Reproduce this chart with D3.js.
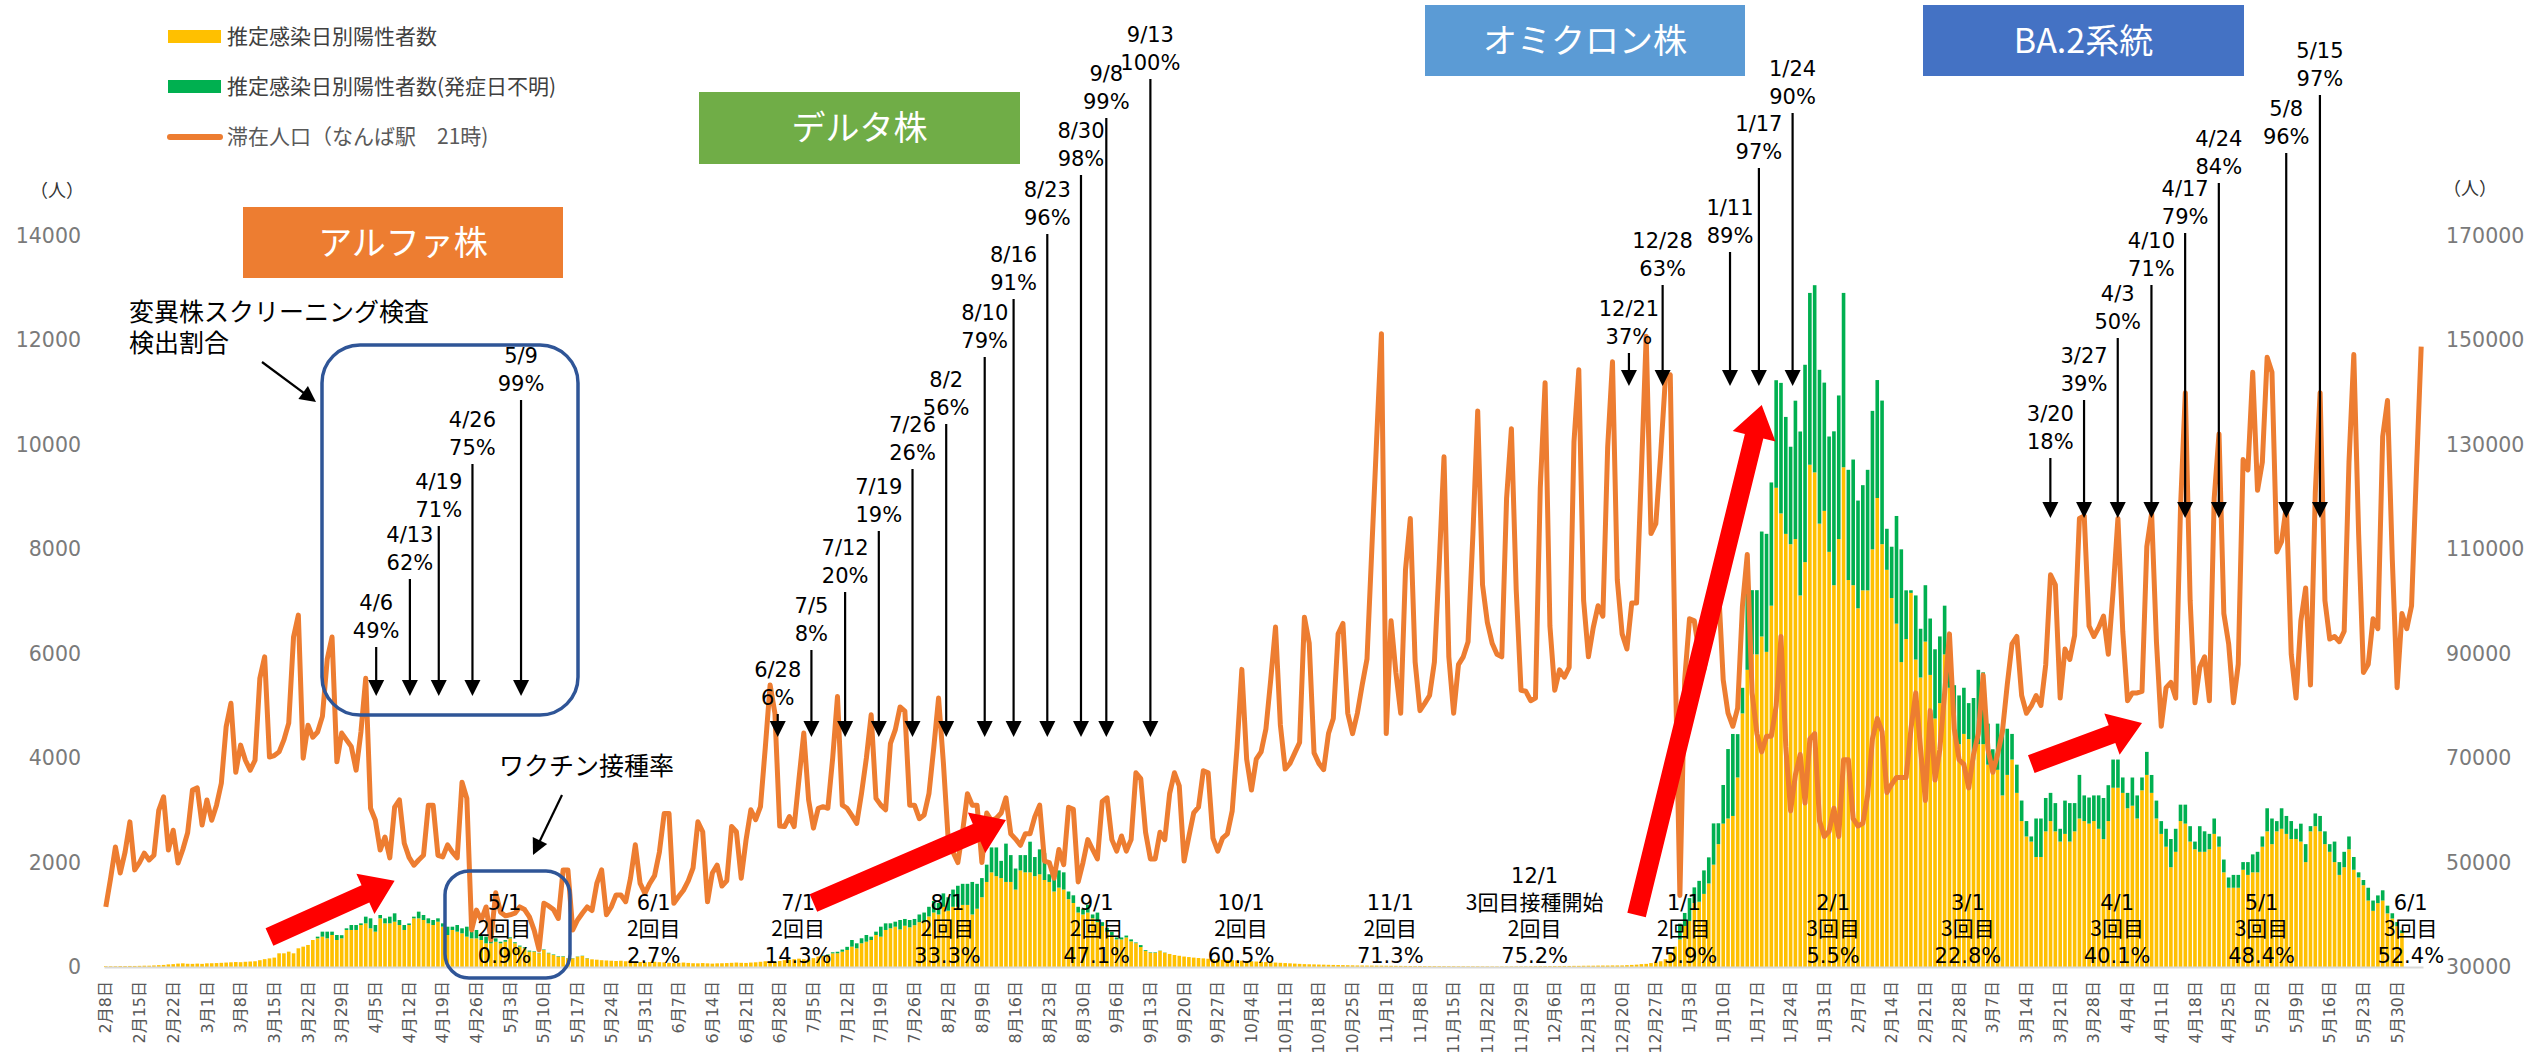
<!DOCTYPE html>
<html lang="ja">
<head>
<meta charset="utf-8">
<script src="https://cdn.jsdelivr.net/npm/d3@7"></script>
<style>
  body { margin: 0; background: #fff; }
  text { font-family: "DejaVu Sans", "Noto Sans CJK JP", sans-serif; }
  text.jp { font-family: "Noto Sans CJK JP", sans-serif; }
</style>
</head>
<body>
<svg id="chart"></svg>
<script>
const width = 2539, height = 1055

// ---- data ----
const startDate = "2021-02-08"

// 滞在人口（なんば駅 21時）, one value per day from 2021-02-08
const population = [
  41500, 47000, 53000, 48000, 52000, 57800, 48600,
  50000, 51800, 50500, 51400, 60000, 62600, 52400,
  56200, 49900, 52500, 55700, 63900, 64300, 57200,
  62000, 58100, 61000, 65200, 76000, 80500, 67300,
  72500, 69600, 67700, 69600, 85300, 89400, 70200,
  70500, 71200, 73500, 76700, 93200, 97400, 70000,
  76300, 74000, 75000, 78000, 89000, 93200, 69300,
  74800, 73500, 72200, 67700, 75000, 85300, 60400,
  58100, 52400, 54900, 50900, 60600, 62000, 53700,
  51000, 49500, 50500, 51400, 61000, 61000, 51400,
  51100, 53400, 52000, 50900, 65400, 62300, 37100,
  40900, 39000, 41500, 35200, 44200, 40500, 39800,
  40000, 40300, 41500, 41000, 39600, 37000, 33300,
  42200, 41700, 41000, 39300, 48600, 48600, 37100,
  39000, 40300, 41500, 40800, 46000, 48600, 40000,
  41500, 43800, 43800, 42500, 47000, 53400, 46000,
  44100, 46000, 47500, 52000, 59400, 59400, 42200,
  43500, 44700, 46500, 49000, 57800, 55900, 42500,
  48000, 49500, 45500, 46500, 56900, 55900, 47000,
  54300, 60100, 58200, 60700, 72000, 84000, 78600,
  57000, 56900, 58800, 56900, 66000, 74800, 62000,
  56600, 60400, 60700, 60400, 70000, 81800, 61000,
  60400, 59000, 57500, 63300, 70000, 78300, 62300,
  61000, 60100, 72800, 75400, 79800, 79000, 61000,
  61000, 58400, 59100, 63200, 72000, 81500, 69100,
  54400, 52000, 50000, 56000, 63200, 61000, 61000,
  50000, 59500, 58000, 58500, 59500, 62400, 55500,
  54500, 53300, 55500, 55500, 58800, 61000, 50300,
  50000, 47000, 52500, 49600, 60600, 60200, 46300,
  50000, 54400, 52500, 50700, 61700, 62400, 54400,
  52200, 55100, 52200, 54400, 67200, 66100, 55800,
  50700, 50700, 55800, 54400, 63200, 67200, 64700,
  50300, 55000, 59500, 60600, 67600, 67200, 54700,
  52200, 54700, 55500, 59900, 72000, 87000, 69800,
  63900, 69800, 71200, 75600, 85000, 95100, 76400,
  67900, 69000, 71000, 73000, 97000, 92000, 71000,
  69000, 67800, 74700, 77600, 93800, 95800, 78600,
  74700, 78600, 84000, 89000, 110000, 131000, 151300,
  74700, 96300, 86400, 78600, 106100, 115900, 88400,
  79100, 80500, 82000, 88400, 107100, 127700, 89400,
  78600, 87900, 89400, 92300, 112800, 136500, 103200,
  96000, 92000, 89900, 89400, 119800, 133100, 102200,
  83000, 82800, 81000, 81500, 121800, 141900, 95300,
  83000, 86900, 85500, 87400, 130600, 144400, 100200,
  89400, 95000, 99200, 97200, 129600, 145900, 104100,
  93800, 90900, 99700, 99700, 124700, 150800, 113000,
  114900, 128000, 142900, 143400, 90000, 43700, 85000,
  96700, 96300, 90000, 87000, 92000, 100000, 103200,
  85000, 78600, 76100, 79600, 99200, 109000, 82500,
  74700, 71200, 74200, 74200, 80000, 93300, 72200,
  59900, 66800, 70700, 61400, 73700, 74700, 58000,
  55000, 56000, 60400, 55000, 69700, 69700, 58400,
  57000, 57500, 62900, 73700, 77600, 75100, 63400,
  65000, 66300, 66300, 66300, 75600, 82500, 71700,
  61900, 79100, 65800, 71700, 82500, 93800, 75600,
  69700, 68800, 64300, 70700, 74700, 85900, 71700,
  67300, 70700, 75100, 84000, 91900, 93300, 82000,
  78600, 80000, 82000, 80100, 87900, 105100, 103200,
  81500, 90900, 88900, 93500, 115900, 116400, 95300,
  93300, 95000, 97200, 89900, 102000, 115900, 94300,
  81000, 82500, 82500, 82800, 110500, 116900, 92300,
  76100, 83500, 84500, 81500, 117900, 140000, 100200,
  80600, 87400, 89400, 81000, 119800, 132100, 97700,
  91900, 80600, 88000, 127200, 125200, 143900, 121300,
  126700, 146800, 143900, 109500, 111500, 118400, 89900,
  81500, 96300, 102600, 84000, 120800, 140000, 100200,
  92800, 93300, 92300, 94300, 126700, 147300, 113000,
  86400, 88000, 96700, 94800, 131600, 138500, 108000,
  83500, 97700, 94800, 99200, 124700, 148800
]

// 推定感染日別陽性者数
const positives = [
  15, 15, 15, 18, 18, 20, 20,
  22, 25, 25, 30, 35, 40, 50,
  55, 65, 70, 62, 60, 65, 60,
  70, 72, 75, 80, 85, 90, 95,
  92, 100, 105, 110, 130, 150, 165,
  180, 262, 262, 294, 262, 358, 390,
  422, 517, 549, 581, 549, 613, 517,
  549, 709, 709, 709, 804, 836, 741,
  677, 932, 836, 836, 868, 804, 709,
  804, 932, 932, 900, 836, 804, 868,
  772, 613, 709, 677, 645, 581, 549,
  549, 517, 454, 454, 485, 454, 485,
  549, 454, 390, 358, 294, 294, 262,
  326, 262, 230, 198, 198, 166, 166,
  198, 211, 166, 147, 140, 130, 125,
  120, 115, 120, 110, 105, 100, 95,
  90, 95, 100, 92, 88, 80, 75,
  80, 85, 78, 72, 70, 75, 70,
  65, 70, 72, 75, 80, 85, 80,
  78, 85, 90, 100, 110, 105, 100,
  115, 130, 140, 150, 160, 150, 140,
  170, 200, 210, 230, 262, 262, 294,
  326, 390, 358, 454, 485, 517, 613,
  581, 709, 741, 772, 720, 790, 760,
  800, 859, 859, 969, 1043, 1006, 1153,
  1079, 1153, 1153, 1189, 1189, 1006, 1116,
  1336, 1629, 1813, 1740, 1703, 1629, 1629,
  1483, 1850, 1813, 1813, 1740, 1776, 1666,
  1629, 1446, 1520, 1483, 1299, 1226, 1043,
  1006, 1043, 933, 859, 786, 676, 602,
  529, 529, 566, 492, 456, 382, 309,
  272, 272, 309, 272, 250, 230, 215,
  200, 190, 180, 172, 165, 158, 150,
  145, 140, 135, 130, 125, 120, 115,
  110, 105, 100, 95, 90, 85, 80,
  75, 70, 65, 60, 55, 52, 50,
  47, 45, 42, 40, 38, 36, 34,
  32, 30, 29, 28, 27, 26, 25,
  24, 23, 22, 21, 20, 19, 18,
  18, 17, 16, 16, 15, 15, 14,
  14, 13, 13, 12, 12, 12, 11,
  11, 10, 10, 10, 10, 11, 11,
  12, 12, 13, 14, 15, 15, 16,
  18, 18, 20, 20, 22, 22, 24,
  25, 25, 27, 28, 28, 30, 30,
  30, 35, 40, 45, 55, 60, 75,
  90, 110, 150, 250, 390, 530, 785,
  880, 1225, 1250, 1400, 1600, 1960, 2353,
  2746, 2844, 2893, 3630, 4857, 5692, 5987,
  5987, 6330, 6036, 6920, 9178, 8687, 8295,
  8098, 8196, 7116, 7754, 9620, 9473, 8491,
  8736, 7951, 7312, 8196, 9571, 7411, 7312,
  6870, 7214, 7214, 7999, 8982, 8098, 7607,
  7067, 6576, 5839, 6281, 7165, 5889, 5545,
  6232, 5594, 4759, 5054, 5987, 5348, 4759,
  4268, 4464, 4366, 3973, 4268, 4268, 3875,
  3777, 3777, 3286, 3679, 3973, 3335, 2795,
  2500, 2402, 2107, 2107, 2598, 2795, 2598,
  2402, 2549, 2402, 2598, 2844, 2795, 2746,
  2795, 2647, 2451, 2795, 3433, 3433, 3335,
  3040, 3089, 2844, 3384, 3679, 3335, 2844,
  2549, 2304, 1911, 2206, 2795, 2746, 2402,
  2255, 2206, 2206, 2255, 2549, 2304, 1813,
  1518, 1518, 1518, 1862, 1764, 1813, 1813,
  2304, 2598, 2353, 2598, 2647, 2549, 2451,
  2451, 2402, 2009, 2598, 2696, 2598, 2353,
  2206, 2009, 1764, 1911, 2255, 1862, 1715,
  1567, 1273, 1076, 1223, 1273, 1027, 929,
  781, 650
]

// 推定感染日別陽性者数（発症日不明）
const positivesUnknown = [
  0, 0, 0, 0, 0, 0, 0,
  0, 0, 0, 0, 0, 0, 0,
  0, 0, 0, 0, 0, 0, 0,
  0, 0, 0, 0, 0, 0, 0,
  0, 0, 0, 0, 0, 0, 0,
  0, 0, 0, 0, 0, 0, 0,
  0, 0, 32, 96, 128, 64, 96,
  60, 32, 95, 95, 32, 128, 191,
  127, 64, 96, 128, 160, 96, 95,
  30, 32, 128, 96, 96, 96, 64,
  64, 159, 63, 127, 96, 191, 128,
  160, 96, 128, 128, 64, 30, 30,
  20, 20, 20, 20, 20, 10, 10,
  10, 10, 10, 10, 10, 5, 5,
  5, 5, 5, 0, 0, 0, 0,
  0, 0, 0, 0, 0, 0, 0,
  0, 0, 0, 0, 0, 0, 0,
  0, 0, 0, 0, 0, 0, 0,
  0, 0, 0, 0, 0, 0, 0,
  0, 0, 0, 0, 0, 0, 0,
  0, 0, 0, 0, 0, 0, 0,
  0, 0, 10, 10, 20, 30, 40,
  60, 127, 96, 96, 128, 64, 64,
  191, 127, 96, 96, 180, 130, 140,
  120, 147, 184, 184, 220, 220, 257,
  257, 330, 403, 404, 404, 623, 477,
  367, 331, 477, 550, 330, 734, 514,
  403, 293, 330, 587, 366, 477, 514,
  147, 257, 330, 330, 147, 147, 110,
  110, 147, 73, 183, 73, 74, 73,
  37, 37, 36, 37, 14, 37, 15,
  10, 10, 5, 5, 0, 0, 0,
  0, 0, 0, 0, 0, 0, 0,
  0, 0, 0, 0, 0, 0, 0,
  0, 0, 0, 0, 0, 0, 0,
  0, 0, 0, 0, 0, 0, 0,
  0, 0, 0, 0, 0, 0, 0,
  0, 0, 0, 0, 0, 0, 0,
  0, 0, 0, 0, 0, 0, 0,
  0, 0, 0, 0, 0, 0, 0,
  0, 0, 0, 0, 0, 0, 0,
  0, 0, 0, 0, 0, 0, 0,
  0, 0, 0, 0, 0, 0, 0,
  0, 0, 0, 0, 0, 0, 0,
  0, 0, 0, 0, 0, 0, 0,
  0, 0, 0, 0, 0, 0, 0,
  0, 0, 0, 0, 0, 300, 250,
  440, 300, 400, 450, 500, 790, 400,
  740, 1330, 1570, 830, 490, 1620, 1230,
  1230, 2010, 2260, 2360, 2060, 2500, 2240,
  1866, 2650, 3140, 3780, 3290, 3585, 2946,
  2456, 2209, 2947, 2750, 3339, 2111, 2407,
  2063, 2014, 2308, 2652, 2259, 2750, 786,
  982, 2062, 2160, 933, 50, 1227, 933,
  1080, 1080, 1326, 1277, 933, 1032, 638,
  933, 884, 688, 1179, 1424, 1375, 786,
  393, 884, 1227, 884, 491, 540, 393,
  295, 98, 737, 737, 639, 540, 541,
  245, 638, 737, 541, 835, 491, 500,
  491, 640, 786, 687, 540, 540, 295,
  295, 540, 442, 246, 441, 343, 343,
  245, 343, 540, 441, 314, 363, 295,
  147, 491, 393, 295, 295, 196, 245,
  197, 246, 246, 147, 245, 344, 393,
  196, 442, 491, 196, 393, 344, 344,
  196, 343, 344, 100, 245, 295, 245,
  147, 393, 245, 295, 245, 245, 98,
  99, 245, 197, 148, 196, 148, 100,
  80, 50
]

const leftTicks = [0, 2000, 4000, 6000, 8000, 10000, 12000, 14000]
const rightTicks = [30000, 50000, 70000, 90000, 110000, 130000, 150000, 170000]

const legendLabels = ["推定感染日別陽性者数", "推定感染日別陽性者数(発症日不明)", "滞在人口（なんば駅　21時)"]
const variantNames = ["アルファ株", "デルタ株", "オミクロン株", "BA.2系統"]

// 変異株スクリーニング検査 検出割合
const screeningAlpha = [["2021-04-06", "49%"], ["2021-04-13", "62%"], ["2021-04-19", "71%"], ["2021-04-26", "75%"], ["2021-05-09", "99%"]]
const screeningDelta = [["2021-06-28", "6%"], ["2021-07-05", "8%"], ["2021-07-12", "20%"], ["2021-07-19", "19%"],
  ["2021-07-26", "26%"], ["2021-08-02", "56%"], ["2021-08-10", "79%"], ["2021-08-16", "91%"],
  ["2021-08-23", "96%"], ["2021-08-30", "98%"], ["2021-09-08", "99%"], ["2021-09-13", "100%"]]
const screeningOmicron = [["2021-12-21", "37%"], ["2021-12-28", "63%"], ["2022-01-11", "89%"], ["2022-01-17", "97%"], ["2022-01-24", "90%"]]
const screeningBA2 = [["2022-03-20", "18%"], ["2022-03-27", "39%"], ["2022-04-03", "50%"], ["2022-04-10", "71%"],
  ["2022-04-17", "79%"], ["2022-04-24", "84%"], ["2022-05-08", "96%"], ["2022-05-15", "97%"]]

// ワクチン接種率
const vaccDates = ["2021-05-01", "2021-06-01", "2021-07-01", "2021-08-01", "2021-09-01", "2021-10-01", "2021-11-01",
  "2021-12-01", "2022-01-01", "2022-02-01", "2022-03-01", "2022-04-01", "2022-05-01", "2022-06-01"]
const vaccNote = ["", "", "", "", "", "", "", "3回目接種開始", "", "", "", "", "", ""]
const vaccDose = ["2回目", "2回目", "2回目", "2回目", "2回目", "2回目", "2回目", "2回目", "2回目", "3回目", "3回目", "3回目", "3回目", "3回目"]
const vaccRate = ["0.9%", "2.7%", "14.3%", "33.3%", "47.1%", "60.5%", "71.3%", "75.2%", "75.9%", "5.5%", "22.8%", "40.1%", "48.4%", "52.4%"]

// ---- layout ----
const plot = { left: 104, right: 2423, top: 236, bottom: 967 }
const variantBoxes = [
  { x: 243, y: 207, w: 320, h: 71, fill: "#ED7D31" },
  { x: 699, y: 92, w: 321, h: 72, fill: "#70AD47" },
  { x: 1425, y: 5, w: 320, h: 71, fill: "#5B9BD5" },
  { x: 1923, y: 5, w: 321, h: 71, fill: "#4472C4" }
]
const screeningLayout = [
  { items: screeningAlpha, labelY: [602, 534, 481, 419, 355], tip: 696, dx: -4, shift: [0, 0, 0, 0, -14] },
  { items: screeningDelta, labelY: [669, 605, 547, 486, 424, 379, 312, 254, 189, 130, 73, 34], tip: 737, dx: -2,
    shift: [0, 0, 0, 0, 0, 0, 0, 0, 0, 0, -18, 2] },
  { items: screeningOmicron, labelY: [308, 240, 207, 123, 68], tip: 386, dx: 2, shift: [0, 0, 0, 0, 0] },
  { items: screeningBA2, labelY: [413, 355, 293, 240, 188, 138, 108, 50], tip: 518, dx: -5, shift: [0, 0, 0, 0, 0, 0, 0, 0] }
]
// red trend arrows: [date, left-axis value] for tail and tip
const trendArrows = [
  [["2021-03-14", 575], ["2021-04-09", 1650]],
  [["2021-07-05", 1226], ["2021-08-14", 2815]],
  [["2021-12-23", 996], ["2022-01-18", 10762]],
  [["2022-03-15", 3887], ["2022-04-07", 4673]]
]

// ---- scales ----
const parse = d3.timeParse("%Y-%m-%d")
const day0 = parse(startDate)
const dayIndex = s => d3.timeDay.count(day0, parse(s))
const dates = d3.range(population.length).map(i => d3.timeDay.offset(day0, i))

const svg = d3.select("#chart").attr("width", width).attr("height", height).style("background", "#fff")

const x = d3.scaleBand().domain(d3.range(population.length)).range([plot.left, plot.right]).paddingInner(0.25)
const cx = i => x(i) + x.bandwidth() / 2
const yLeft = d3.scaleLinear().domain([0, 14000]).range([plot.bottom, plot.top])
const yRight = d3.scaleLinear().domain([30000, 170000]).range([plot.bottom, plot.top])

// ---- bars ----
const bars = svg.append("g")
bars.selectAll("rect.known").data(positives).join("rect")
  .attr("class", "known")
  .attr("x", (d, i) => x(i))
  .attr("width", x.bandwidth())
  .attr("y", d => yLeft(d))
  .attr("height", d => plot.bottom - yLeft(d))
  .attr("fill", "#FFC000")
bars.selectAll("rect.unknown").data(positivesUnknown).join("rect")
  .attr("class", "unknown")
  .attr("x", (d, i) => x(i))
  .attr("width", x.bandwidth())
  .attr("y", (d, i) => yLeft(positives[i] + d))
  .attr("height", (d, i) => yLeft(positives[i]) - yLeft(positives[i] + d))
  .attr("fill", "#00B050")

// ---- axes ----
const weekTicks = d3.range(0, positives.length, 7)
const fmtTick = d3.timeFormat("%-m月%-d日")
const gx = svg.append("g")
  .attr("transform", `translate(0,${plot.bottom})`)
  .call(d3.axisBottom(x).tickValues(weekTicks).tickFormat(i => fmtTick(dates[i])).tickSize(0).tickSizeOuter(0))
gx.select(".domain").attr("stroke", "#d9d9d9").attr("stroke-width", 2)
gx.selectAll("text")
  .attr("transform", "rotate(-90)")
  .attr("text-anchor", "end")
  .attr("x", -14).attr("y", 0).attr("dy", "0.35em")
  .attr("font-size", 16).attr("fill", "#595959")

const gl = svg.append("g").attr("transform", "translate(88,0)")
  .call(d3.axisLeft(yLeft).tickValues(leftTicks).tickFormat(d3.format("d")).tickSize(0).tickPadding(7))
gl.select(".domain").remove()
gl.selectAll("text").attr("font-size", 20.5).attr("fill", "#7a7a7a")

const gr = svg.append("g").attr("transform", "translate(2440,0)")
  .call(d3.axisRight(yRight).tickValues(rightTicks).tickFormat(d3.format("d")).tickSize(0).tickPadding(6))
gr.select(".domain").remove()
gr.selectAll("text").attr("font-size", 20.5).attr("fill", "#7a7a7a")

svg.append("text").attr("class", "jp").attr("x", 57).attr("y", 191).attr("dy", "0.35em")
  .attr("text-anchor", "middle").attr("font-size", 18).attr("fill", "#333").text("（人）")
svg.append("text").attr("class", "jp").attr("x", 2470).attr("y", 189).attr("dy", "0.35em")
  .attr("text-anchor", "middle").attr("font-size", 18).attr("fill", "#333").text("（人）")

// ---- line ----
svg.append("path").datum(population)
  .attr("fill", "none")
  .attr("stroke", "#ED7D31")
  .attr("stroke-width", 5)
  .attr("stroke-linejoin", "round")
  .attr("d", d3.line().x((d, i) => cx(i)).y(d => yRight(d)))

// ---- legend ----
const legend = svg.append("g")
legend.append("rect").attr("x", 168).attr("y", 30).attr("width", 53).attr("height", 13).attr("fill", "#FFC000")
legend.append("rect").attr("x", 168).attr("y", 80).attr("width", 53).attr("height", 13).attr("fill", "#00B050")
legend.append("line").attr("x1", 170).attr("x2", 220).attr("y1", 137).attr("y2", 137)
  .attr("stroke", "#ED7D31").attr("stroke-width", 6).attr("stroke-linecap", "round")
legend.selectAll("text").data(legendLabels).join("text")
  .attr("class", "jp")
  .attr("x", 227).attr("y", (d, i) => [36.5, 86.5, 137][i]).attr("dy", "0.35em")
  .attr("font-size", 21).attr("fill", (d, i) => i < 2 ? "#404040" : "#595959")
  .text(d => d)

// ---- variant boxes ----
variantBoxes.forEach((b, i) => {
  svg.append("rect").attr("x", b.x).attr("y", b.y).attr("width", b.w).attr("height", b.h).attr("fill", b.fill)
  svg.append("text").attr("class", "jp")
    .attr("x", b.x + b.w / 2).attr("y", b.y + b.h / 2).attr("dy", "0.36em")
    .attr("text-anchor", "middle").attr("font-size", 34).attr("fill", "#fff")
    .text(variantNames[i])
})

// ---- helpers ----
const headPoints = (x0, y0, x1, y1, len, half) => {
  const a = Math.atan2(y1 - y0, x1 - x0)
  const bx = x1 - len * Math.cos(a), by = y1 - len * Math.sin(a)
  const nx = -Math.sin(a) * half, ny = Math.cos(a) * half
  return [[x1, y1], [bx + nx, by + ny], [bx - nx, by - ny]]
}
const pointer = (x0, y0, x1, y1) => {
  const a = Math.atan2(y1 - y0, x1 - x0)
  svg.append("line").attr("x1", x0).attr("y1", y0)
    .attr("x2", x1 - 12 * Math.cos(a)).attr("y2", y1 - 12 * Math.sin(a))
    .attr("stroke", "#000").attr("stroke-width", 2.2)
  svg.append("polygon").attr("points", headPoints(x0, y0, x1, y1, 16, 8).join(" ")).attr("fill", "#000")
}

// ---- screening annotations ----
const fmtMD = d3.timeFormat("%-m/%-d")
screeningLayout.forEach(group => {
  group.items.forEach(([date, pct], i) => {
    const xx = cx(dayIndex(date)) + group.dx + group.shift[i]
    const ly = group.labelY[i]
    svg.append("text").attr("x", xx).attr("y", ly).attr("dy", "0.36em")
      .attr("text-anchor", "middle").attr("font-size", 21).attr("fill", "#000").text(fmtMD(parse(date)))
    svg.append("text").attr("x", xx).attr("y", ly + 28).attr("dy", "0.36em")
      .attr("text-anchor", "middle").attr("font-size", 21).attr("fill", "#000").text(pct)
    pointer(xx, ly + 45, xx, group.tip)
  })
})

// screening box (alpha) + caption
svg.append("rect").attr("x", 322).attr("y", 345).attr("width", 256).attr("height", 370).attr("rx", 38)
  .attr("fill", "none").attr("stroke", "#2F5597").attr("stroke-width", 3.5)
svg.append("text").attr("class", "jp").attr("x", 129).attr("y", 312).attr("dy", "0.36em")
  .attr("font-size", 25).attr("fill", "#000").text("変異株スクリーニング検査")
svg.append("text").attr("class", "jp").attr("x", 129).attr("y", 343).attr("dy", "0.36em")
  .attr("font-size", 25).attr("fill", "#000").text("検出割合")
pointer(262, 362, 316, 402)

// ---- vaccination labels ----
const vaccRows = vaccDates.map((d, i) => [fmtMD(parse(d)), vaccNote[i], vaccDose[i], vaccRate[i]].filter(s => s !== ""))
vaccRows.forEach((lines, i) => {
  const xx = cx(Math.min(dayIndex(vaccDates[i]), population.length - 1)) + 4
  const n = lines.length
  lines.forEach((s, j) => {
    svg.append("text").attr("class", /[^\x00-\x7f]/.test(s) ? "jp" : null)
      .attr("x", xx).attr("y", 955 - (n - 1 - j) * 26.5).attr("dy", "0.36em")
      .attr("text-anchor", "middle").attr("font-size", 21).attr("fill", "#000").text(s)
  })
})
svg.append("rect").attr("x", 445).attr("y", 871).attr("width", 125).attr("height", 107).attr("rx", 24)
  .attr("fill", "none").attr("stroke", "#2F5597").attr("stroke-width", 3.5)
svg.append("text").attr("class", "jp").attr("x", 499).attr("y", 766).attr("dy", "0.36em")
  .attr("font-size", 25).attr("fill", "#000").text("ワクチン接種率")
pointer(562, 795, 533, 855)

// ---- red trend arrows ----
trendArrows.forEach(([from, to]) => {
  const x0 = cx(dayIndex(from[0])), y0 = yLeft(from[1])
  const x1 = cx(dayIndex(to[0])), y1 = yLeft(to[1])
  const a = Math.atan2(y1 - y0, x1 - x0)
  const len = 32, half = 22, shaft = 9.5
  const bx = x1 - len * Math.cos(a), by = y1 - len * Math.sin(a)
  const nx = -Math.sin(a), ny = Math.cos(a)
  const pts = [
    [x0 + nx * shaft, y0 + ny * shaft],
    [bx + nx * shaft, by + ny * shaft],
    [bx + nx * half, by + ny * half],
    [x1, y1],
    [bx - nx * half, by - ny * half],
    [bx - nx * shaft, by - ny * shaft],
    [x0 - nx * shaft, y0 - ny * shaft]
  ]
  svg.append("polygon").attr("points", pts.join(" ")).attr("fill", "#FF0000")
})
</script>
</body>
</html>
